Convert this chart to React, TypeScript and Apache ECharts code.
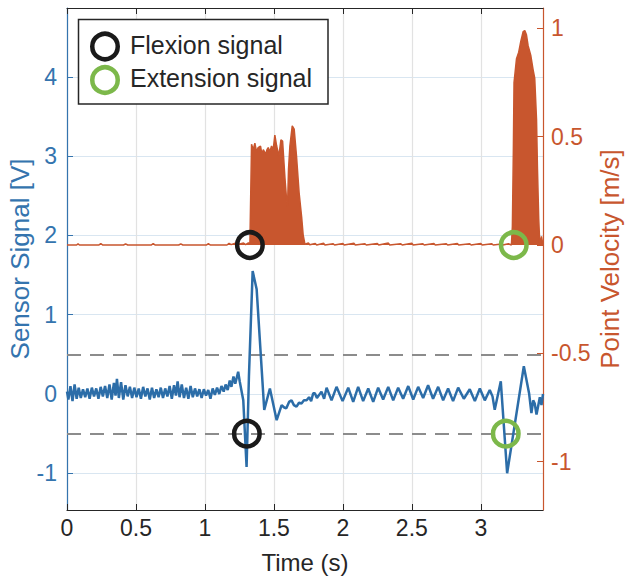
import React, { useEffect, useRef } from "react";
import * as echarts from "echarts";

const xTicks = [0, 0.5, 1, 1.5, 2, 2.5, 3];
const leftTicks = [-1, 0, 1, 2, 3, 4];
const rightTicks = [-1, -0.5, 0, 0.5, 1];
const thresholds = [0.5, -0.5];

// Sensor signal [time s, volts]
const sensorSignal: [number, number][] = [
  [0.000, 0.03], [0.010, -0.07], [0.025, 0.10], [0.040, -0.09], [0.055, 0.12], [0.070, -0.06],
  [0.085, 0.08], [0.100, -0.05], [0.116, 0.06], [0.132, -0.04], [0.148, 0.07], [0.164, -0.06],
  [0.180, 0.08], [0.196, -0.03], [0.212, 0.07], [0.228, -0.06], [0.244, 0.09], [0.260, -0.03],
  [0.276, 0.10], [0.292, -0.05], [0.308, 0.12], [0.324, -0.07], [0.340, 0.14], [0.352, -0.02],
  [0.362, 0.19], [0.376, -0.05], [0.392, 0.15], [0.408, -0.07], [0.424, 0.11], [0.440, -0.03],
  [0.456, 0.09], [0.472, -0.05], [0.488, 0.08], [0.504, -0.04], [0.520, 0.07], [0.536, -0.06],
  [0.552, 0.09], [0.568, -0.03], [0.584, 0.07], [0.600, -0.07], [0.616, 0.08], [0.632, -0.05],
  [0.648, 0.06], [0.664, -0.04], [0.680, 0.08], [0.696, -0.05], [0.712, 0.07], [0.728, -0.03],
  [0.744, 0.10], [0.760, -0.06], [0.776, 0.11], [0.790, -0.02], [0.802, 0.16], [0.816, -0.04],
  [0.832, 0.12], [0.848, -0.05], [0.864, 0.08], [0.880, -0.06], [0.896, 0.10], [0.912, -0.04],
  [0.928, 0.07], [0.944, -0.03], [0.960, 0.06], [0.976, -0.05], [0.992, 0.06], [1.008, -0.02],
  [1.024, 0.05], [1.040, -0.06], [1.056, 0.07], [1.072, -0.01], [1.088, 0.08], [1.104, 0.00],
  [1.120, 0.10], [1.136, 0.03], [1.150, 0.12], [1.165, 0.05], [1.180, 0.17], [1.192, 0.09],
  [1.207, 0.22], [1.220, 0.13], [1.241, 0.28], [1.252, 0.16], [1.278, -0.08], [1.302, -0.92],
  [1.319, 0.22], [1.346, 1.55], [1.375, 1.32], [1.430, -0.20], [1.471, 0.07], [1.520, -0.33],
  [1.556, -0.14], [1.575, -0.17], [1.590, -0.18], [1.610, -0.10], [1.628, -0.08], [1.645, -0.14],
  [1.664, -0.16], [1.682, -0.11], [1.700, -0.12], [1.718, -0.08], [1.737, -0.08], [1.755, -0.04],
  [1.770, -0.09], [1.785, 0.01], [1.797, 0.01], [1.812, -0.05], [1.845, 0.03], [1.864, -0.06],
  [1.882, 0.08], [1.918, -0.08], [1.954, 0.09], [1.998, -0.09], [2.039, 0.08], [2.075, -0.10],
  [2.111, 0.09], [2.147, -0.09], [2.184, 0.07], [2.220, -0.10], [2.256, 0.08], [2.292, -0.07],
  [2.329, 0.09], [2.365, -0.08], [2.401, 0.08], [2.437, -0.06], [2.474, 0.10], [2.510, -0.07],
  [2.546, 0.09], [2.582, -0.05], [2.618, 0.11], [2.654, -0.06], [2.691, 0.09], [2.727, -0.08],
  [2.763, 0.07], [2.799, -0.09], [2.836, 0.08], [2.877, -0.06], [2.920, 0.06], [2.957, -0.09],
  [2.993, 0.07], [3.029, -0.08], [3.065, 0.05], [3.085, -0.03], [3.101, -0.20], [3.145, 0.16],
  [3.191, -1.00], [3.312, 0.35], [3.350, 0.01], [3.367, -0.24], [3.380, -0.08], [3.391, -0.12],
  [3.404, -0.26], [3.428, -0.04], [3.440, -0.14], [3.451, 0.0],
];

// Point velocity [time s, m/s] (envelope of the dense trace)
const velocity: [number, number][] = [
  [0, 0], [0.07, 0], [0.08, 0.006], [0.09, 0], [0.23, 0], [0.245, 0.007], [0.26, 0], [0.41, 0],
  [0.425, 0.005], [0.44, 0], [0.61, 0], [0.625, 0.007], [0.64, 0], [0.81, 0], [0.825, 0.005], [0.84, 0],
  [1.01, 0], [1.025, 0.006], [1.04, 0], [1.16, 0], [1.175, 0.008], [1.19, 0.002], [1.225, 0.01],
  [1.24, 0.002], [1.28, 0.009], [1.295, 0.002], [1.315, 0.01], [1.326, 0.006],
  [1.338, 0.465], [1.350, 0.44], [1.362, 0.47], [1.374, 0.43], [1.386, 0.45], [1.403, 0.457],
  [1.413, 0.42], [1.423, 0.44], [1.442, 0.42], [1.450, 0.44], [1.459, 0.45], [1.470, 0.43],
  [1.483, 0.457], [1.495, 0.44], [1.507, 0.507], [1.520, 0.457], [1.536, 0.41], [1.551, 0.485],
  [1.563, 0.48], [1.580, 0.31], [1.592, 0.21], [1.599, 0.18], [1.606, 0.35], [1.616, 0.457],
  [1.633, 0.55], [1.647, 0.535], [1.664, 0.41], [1.683, 0.24], [1.701, 0.13], [1.712, 0.047],
  [1.725, 0.004], [1.75, 0.009], [1.76, 0.001], [1.80, 0.007], [1.81, 0], [1.86, 0.008], [1.87, 0],
  [1.93, 0.006], [1.94, 0], [2.00, 0.007], [2.01, 0], [2.08, 0.008], [2.09, 0], [2.16, 0.006],
  [2.17, 0], [2.25, 0.007], [2.26, 0], [2.33, 0.009], [2.34, 0], [2.42, 0.006], [2.43, 0],
  [2.50, 0.008], [2.51, 0], [2.58, 0.006], [2.59, 0], [2.66, 0.007], [2.67, 0], [2.75, 0.006],
  [2.76, 0], [2.83, 0.007], [2.84, 0], [2.92, 0.006], [2.93, 0], [3.00, 0.007], [3.01, 0],
  [3.08, 0.006], [3.09, 0], [3.15, 0.005], [3.16, 0], [3.20, 0.006], [3.222, 0],
  [3.229, 0.085], [3.236, 0.43], [3.241, 0.75], [3.259, 0.86], [3.275, 0.89], [3.290, 0.94],
  [3.307, 0.985], [3.319, 0.99], [3.331, 0.97], [3.343, 0.92], [3.362, 0.876], [3.379, 0.81],
  [3.391, 0.77], [3.404, 0.58], [3.411, 0.35], [3.420, 0.12], [3.428, 0], [3.440, 0.04], [3.451, 0],
];

const flexionSensor: [number, number][] = [[1.304, -0.5]];
const flexionVelocity: [number, number][] = [[1.326, 0]];
const extensionSensor: [number, number][] = [[3.181, -0.5]];
const extensionVelocity: [number, number][] = [[3.239, 0]];

const FONT = "'Liberation Sans', Arial, Helvetica, sans-serif";
const BLUE = "#2C6DA8";
const BLUE_AXIS = "#3474AE";
const ORANGE = "#C8562E";
const DARK = "#262626";
const GREEN = "#7CB84A";
const BLACK = "#1a1a1a";

export default function App() {
  const ref = useRef<HTMLDivElement>(null);
  useEffect(() => {
    if (!ref.current) return;
    const chart = echarts.init(ref.current, undefined, { renderer: "svg" });
    const circle = (name: string, data: [number, number][], yIdx: number, color: string) => ({
      name,
      type: "scatter",
      yAxisIndex: yIdx,
      data,
      symbol: "circle",
      symbolSize: 25.5,
      itemStyle: { color: "rgba(0,0,0,0)", borderColor: color, borderWidth: 4.5, opacity: 1 },
      z: 10,
      silent: true,
    });
    chart.setOption({
      animation: false,
      textStyle: { fontFamily: FONT },
      grid: { left: 67, right: 85, top: 8, bottom: 69, containLabel: false, outerBoundsMode: "none" },
      xAxis: [
        {
          type: "value",
          min: 0,
          max: 3.451,
          position: "bottom",
          name: "Time (s)",
          nameLocation: "middle",
          nameGap: 40,
          nameMoveOverlap: false,
          nameTextStyle: { fontSize: 24, color: DARK, fontFamily: FONT },
          axisLine: { show: true, onZero: false, lineStyle: { color: DARK, width: 1.2 } },
          axisTick: { show: true, inside: true, length: 6, customValues: xTicks, lineStyle: { color: DARK } },
          axisLabel: { customValues: xTicks, fontSize: 23, color: DARK, margin: 6, fontFamily: FONT },
          splitLine: { show: true, lineStyle: { color: "#e2e2e2", width: 1.2 } },
        },
        {
          type: "value",
          min: 0,
          max: 3.451,
          position: "top",
          axisLine: { show: true, onZero: false, lineStyle: { color: DARK, width: 1.2 } },
          axisTick: { show: true, inside: true, length: 6, customValues: xTicks, lineStyle: { color: DARK } },
          axisLabel: { show: false },
          splitLine: { show: false },
        },
      ],
      yAxis: [
        {
          type: "value",
          min: -1.463,
          max: 4.868,
          position: "left",
          name: "Sensor Signal [V]",
          nameLocation: "middle",
          nameGap: 34,
          nameMoveOverlap: false,
          nameTextStyle: { fontSize: 26, color: BLUE_AXIS, fontFamily: FONT },
          axisLine: { show: true, onZero: false, lineStyle: { color: BLUE_AXIS, width: 1.2 } },
          axisTick: { show: true, inside: true, length: 6, customValues: leftTicks, lineStyle: { color: BLUE_AXIS } },
          axisLabel: { customValues: leftTicks, fontSize: 23, color: BLUE_AXIS, margin: 10, fontFamily: FONT },
          splitLine: { show: true, lineStyle: { color: "#d9e6f1", width: 1.2 } },
        },
        {
          type: "value",
          min: -1.223,
          max: 1.094,
          position: "right",
          name: "Point Velocity [m/s]",
          nameLocation: "middle",
          nameGap: 54,
          nameRotate: 90,
          nameMoveOverlap: false,
          nameTextStyle: { fontSize: 26, color: ORANGE, fontFamily: FONT },
          axisLine: { show: true, onZero: false, lineStyle: { color: ORANGE, width: 1.2 } },
          axisTick: { show: true, inside: true, length: 6, customValues: rightTicks, lineStyle: { color: ORANGE } },
          axisLabel: { customValues: rightTicks, fontSize: 23, color: ORANGE, margin: 8, fontFamily: FONT },
          splitLine: { show: false },
        },
      ],
      series: [
        {
          name: "Point Velocity",
          type: "line",
          yAxisIndex: 1,
          data: velocity,
          symbol: "none",
          lineStyle: { color: ORANGE, width: 1.5 },
          areaStyle: { color: ORANGE, opacity: 1 },
          z: 2,
          silent: true,
        },
        {
          name: "Sensor Signal",
          type: "line",
          yAxisIndex: 0,
          data: sensorSignal,
          symbol: "none",
          lineStyle: { color: BLUE, width: 2.5 },
          z: 3,
          silent: true,
          markLine: {
            silent: true,
            symbol: "none",
            label: { show: false },
            lineStyle: { color: "#8c8c8c", width: 2, type: [14, 9] },
            data: thresholds.map((v) => ({ yAxis: v })),
            z: 1,
          },
        },
        circle("Flexion signal", flexionSensor, 0, BLACK),
        circle("Flexion signal", flexionVelocity, 1, BLACK),
        circle("Extension signal", extensionSensor, 0, GREEN),
        circle("Extension signal", extensionVelocity, 1, GREEN),
      ],
      graphic: [
        {
          type: "rect",
          z: 100,
          shape: { x: 78.5, y: 19.5, width: 249.5, height: 84.5 },
          style: { fill: "#fff", stroke: DARK, lineWidth: 1.5 },
        },
        {
          type: "circle",
          z: 101,
          shape: { cx: 105, cy: 46.5, r: 12.75 },
          style: { fill: "none", stroke: BLACK, lineWidth: 4.5 },
        },
        {
          type: "circle",
          z: 101,
          shape: { cx: 105, cy: 80, r: 12.75 },
          style: { fill: "none", stroke: GREEN, lineWidth: 4.5 },
        },
        {
          type: "text",
          z: 101,
          x: 130,
          y: 44.5,
          style: { text: "Flexion signal", fontSize: 25, fill: DARK, fontFamily: FONT, verticalAlign: "middle" },
        },
        {
          type: "text",
          z: 101,
          x: 130,
          y: 78,
          style: { text: "Extension signal", fontSize: 25, fill: DARK, fontFamily: FONT, verticalAlign: "middle" },
        },
      ],
    });
    return () => chart.dispose();
  }, []);
  return <div ref={ref} style={{ width: 628, height: 579, position: "absolute", left: 0, top: 0 }} />;
}
